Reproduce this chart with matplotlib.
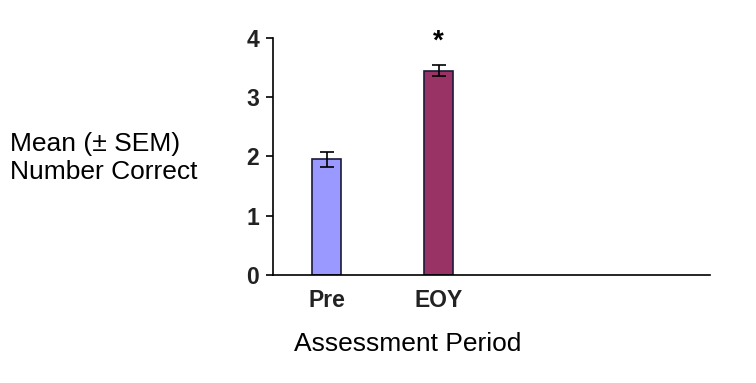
import matplotlib.pyplot as plt
import numpy as np

plt.rcParams['font.family'] = ['Liberation Sans', 'DejaVu Sans']

# data
periods = ["Pre", "EOY"]
means = [1.95, 3.45]
sems = [0.12, 0.09]
colors = ["#9999FF", "#993366"]

fig = plt.figure(figsize=(7.56, 3.83), dpi=100)
ax = fig.add_axes([0.361, 0.282, 0.578, 0.619])

x = np.arange(len(periods))
ax.bar(x, means, width=0.26, color=colors, edgecolor="#1a1a3a", linewidth=1.2,
       yerr=sems, capsize=5, error_kw=dict(elinewidth=1.2, capthick=1.2, ecolor="black"))

# significance marker
ax.text(x[1], 3.93, "*", ha="center", va="center", fontsize=20, fontweight="bold")

ax.set_xlim(-0.478, 3.42)
ax.set_ylim(0, 4)
ax.set_yticks([0, 1, 2, 3, 4])
ax.set_xticks(x)
ax.set_xticklabels(periods, fontsize=16.5, fontweight="bold", color="#222222")
for lbl in ax.get_yticklabels():
    lbl.set_fontsize(16.5)
    lbl.set_fontweight("bold")
    lbl.set_color("#222222")
ax.tick_params(axis="x", length=0, pad=10)
ax.tick_params(axis="y", length=5, width=1.2, pad=5)

ax.spines["top"].set_visible(False)
ax.spines["right"].set_visible(False)
ax.spines["left"].set_linewidth(1.2)
ax.spines["bottom"].set_linewidth(1.2)

fig.text(10 / 756, 1 - 158 / 383, "Mean (\u00b1 SEM)\nNumber Correct", ha="left", va="center",
         fontsize=19, linespacing=1.2)
fig.text(408 / 756, 1 - 344 / 383, "Assessment Period", ha="center", va="center", fontsize=19)

fig.savefig("out.png", dpi=100)
